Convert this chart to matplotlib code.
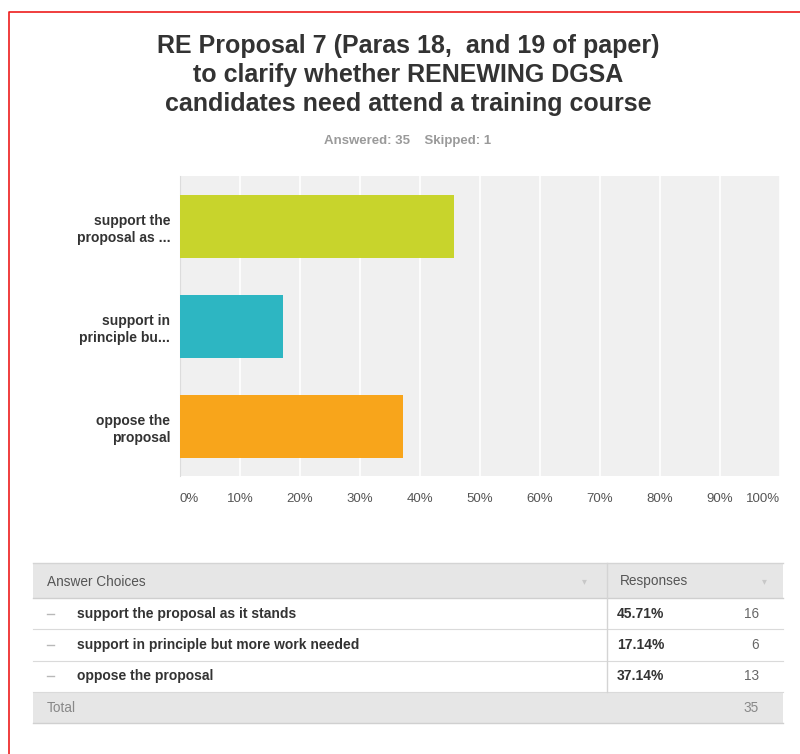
import matplotlib.pyplot as plt
from matplotlib.patches import Rectangle

# data
short_labels = ['support the\nproposal as ...', 'support in\nprinciple bu...', 'oppose the\nproposal']
full_labels = ['support the proposal as it stands',
               'support in principle but more work needed',
               'oppose the proposal']
percents = [45.71, 17.14, 37.14]
counts = [16, 6, 13]
total = 35
skipped = 1
bar_colors = ['#c8d42c', '#2db6c2', '#f8a51b']
xticks = [0, 10, 20, 30, 40, 50, 60, 70, 80, 90, 100]

title = 'RE Proposal 7 (Paras 18,  and 19 of paper)\nto clarify whether RENEWING DGSA\ncandidates need attend a training course'

W, H = 800, 754
fig = plt.figure(figsize=(W / 100, H / 100), dpi=100)
fig.patch.set_facecolor('white')

sans = ['Liberation Sans', 'DejaVu Sans']

# background axes in pixel coords for the frame, titles and table
bg = fig.add_axes([0, 0, 1, 1], zorder=-1)
bg.set_xlim(0, W)
bg.set_ylim(H, 0)
bg.axis('off')

# red frame (top and left visible)
bg.plot([9, 9, W + 5], [H + 5, 12, 12], color='#ee1c1c', lw=1.2)

bg.text(408, 75, title, ha='center', va='center', fontsize=18, fontweight='bold',
        color='#333333', family=sans, linespacing=1.25)
bg.text(408, 141, f'Answered: {total}    Skipped: {skipped}', ha='center', va='center',
        fontsize=9.5, fontweight='bold', color='#9a9a9a', family=sans)

# bar chart
ax = fig.add_axes([180 / W, 1 - 476 / H, 600 / W, 300 / H])
ax.set_facecolor('#f0f0f0')
ypos = list(range(len(percents)))
ax.barh(ypos, percents, height=0.63, color=bar_colors, zorder=3)
ax.set_xlim(0, 100)
ax.set_ylim(len(percents) - 0.5, -0.5)
ax.set_xticks(xticks)
ax.set_xticklabels([f'{t}%' for t in xticks], family=sans, fontsize=9.5, color='#555555')
xt = ax.get_xticklabels()
xt[0].set_ha('left')
xt[-1].set_ha('right')
ax.set_yticks(ypos)
ax.set_yticklabels(short_labels, family=sans, fontsize=10, fontweight='bold', color='#333333',
                   linespacing=1.3)
ax.tick_params(length=0, axis='x', pad=12)
ax.tick_params(length=0, axis='y', pad=7)
ax.grid(axis='x', color='white', lw=1.2, zorder=1)
for s in ax.spines.values():
    s.set_visible(False)
ax.spines['left'].set_visible(True)
ax.spines['left'].set_color('#dcdcdc')

# table
tx0, tx1, tdiv = 33, 783, 607
hdr_top, hdr_bot = 563, 598
row_h = 31.3
bg.add_patch(Rectangle((tx0, hdr_top), tx1 - tx0, hdr_bot - hdr_top, color='#e6e6e6', lw=0))
bg.plot([tx0, tx1], [hdr_top, hdr_top], color='#d4d4d4', lw=1)
bg.plot([tx0, tx1], [hdr_bot, hdr_bot], color='#cfcfcf', lw=1)
bg.text(47, (hdr_top + hdr_bot) / 2 + 1, 'Answer Choices', va='center', fontsize=9.8,
        color='#555555', family=sans)
bg.text(620, (hdr_top + hdr_bot) / 2 + 1, 'Responses', va='center', fontsize=9.8,
        color='#555555', family=sans)
bg.text(584, (hdr_top + hdr_bot) / 2 + 1, '▾', ha='center', va='center', fontsize=7, color='#c8c8c8')
bg.text(764, (hdr_top + hdr_bot) / 2 + 1, '▾', ha='center', va='center', fontsize=7, color='#c8c8c8')

for i, (lab, p, c) in enumerate(zip(full_labels, percents, counts)):
    top = hdr_bot + i * row_h
    mid = top + row_h / 2
    bg.plot([tx0, tx1], [top + row_h, top + row_h], color='#dadada', lw=0.8)
    bg.plot([47, 54], [mid, mid], color='#b8b8b8', lw=1)
    bg.text(77, mid, lab, va='center', fontsize=10, fontweight='bold', color='#333333', family=sans)
    bg.text(617, mid, f'{p:.2f}%', va='center', fontsize=10, fontweight='bold', color='#333333', family=sans)
    bg.text(759, mid, str(c), va='center', ha='right', fontsize=9.8, color='#666666', family=sans)

rows_bot = hdr_bot + len(full_labels) * row_h
bg.plot([tdiv, tdiv], [hdr_top, rows_bot], color='#d4d4d4', lw=1)
bg.add_patch(Rectangle((tx0, rows_bot), tx1 - tx0, row_h, color='#e6e6e6', lw=0))
bg.plot([tx0, tx1], [rows_bot + row_h, rows_bot + row_h], color='#d0d0d0', lw=1)
bg.text(47, rows_bot + row_h / 2, 'Total', va='center', fontsize=9.8, color='#888888', family=sans)
bg.text(759, rows_bot + row_h / 2, str(total), va='center', ha='right', fontsize=9.8,
        color='#888888', family=sans)

fig.savefig('out.png', dpi=100)
